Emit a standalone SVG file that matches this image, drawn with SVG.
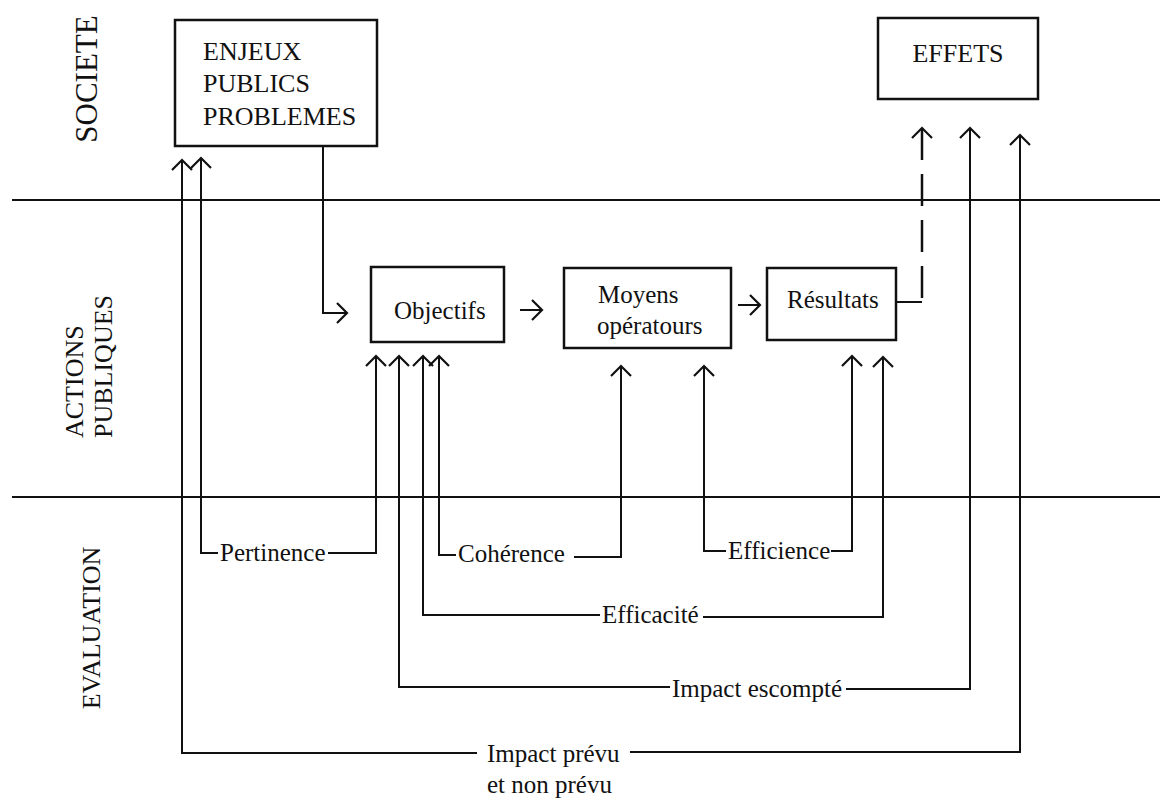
<svg xmlns="http://www.w3.org/2000/svg" width="1160" height="798" viewBox="0 0 1160 798">
<style>
  .bg{fill:#fff}
  .box{fill:#fff;stroke:#111;stroke-width:2.5}
  .sep{stroke:#111;stroke-width:2;fill:none}
  .con{stroke:#111;stroke-width:2;fill:none;marker-end:url(#chev)}
  .line{stroke:#111;stroke-width:2;fill:none}
  .dash{stroke:#111;stroke-width:2.5;fill:none;stroke-dasharray:32 14;marker-end:url(#chev)}
  text{font-family:"Liberation Serif","DejaVu Serif",serif;fill:#111}
  .big{font-size:26px}
  .lab{font-size:25px}
  .side{font-size:26px}
</style>
<defs>
  <marker id="chev" viewBox="-12 -12 14 24" refX="0" refY="0" markerWidth="14" markerHeight="24" markerUnits="userSpaceOnUse" orient="auto" overflow="visible">
    <path d="M-10,-10 L0,0 L-10,10" fill="none" stroke="#111" stroke-width="2.2"/>
  </marker>
</defs>
<rect class="bg" x="0" y="0" width="1160" height="798"/>

<g id="bands">
  <line class="sep" x1="12" y1="200" x2="1160" y2="200"/>
  <line class="sep" x1="12" y1="497" x2="1160" y2="497"/>
  <text class="side" font-size="31" text-anchor="middle" transform="translate(97,79) rotate(-90)" style="font-size:31px">SOCIETE</text>
  <text class="side" transform="translate(83,438) rotate(-90)">ACTIONS</text>
  <text class="side" transform="translate(112,438) rotate(-90)">PUBLIQUES</text>
  <text class="side" text-anchor="middle" transform="translate(100,628) rotate(-90)">EVALUATION</text>
</g>

<g id="enjeux">
  <rect class="box" x="175" y="20" width="202" height="126"/>
  <text class="big" x="203" y="60">ENJEUX</text>
  <text class="big" x="203" y="92">PUBLICS</text>
  <text class="big" x="203" y="125">PROBLEMES</text>
</g>
<g id="effets">
  <rect class="box" x="878" y="18" width="160" height="81"/>
  <text class="big" x="958" y="62" text-anchor="middle">EFFETS</text>
</g>
<g id="objectifs">
  <rect class="box" x="371" y="267" width="133" height="75"/>
  <text class="lab" x="394" y="319">Objectifs</text>
</g>
<g id="moyens">
  <rect class="box" x="564" y="268" width="167" height="80"/>
  <text class="lab" x="598" y="303">Moyens</text>
  <text class="lab" x="597" y="334">opératours</text>
</g>
<g id="resultats">
  <rect class="box" x="767" y="268" width="129" height="72"/>
  <text class="lab" x="787" y="308">Résultats</text>
</g>

<g id="connectors">
  <path class="con" d="M323,146 V313 H347"/>
  <path class="con" d="M520,310 H542"/>
  <path class="con" d="M738,305 H760"/>
  <path class="line" d="M896,302 H922"/>
  <path class="dash" d="M922,298 V128"/>

  <path class="con" d="M218,553 H201 V158"/>
  <path class="con" d="M328,553 H376 V356"/>

  <path class="con" d="M456,555 H439 V356"/>
  <path class="con" d="M574,557 H621 V366"/>

  <path class="con" d="M726,551 H704 V366"/>
  <path class="con" d="M831,551 H852 V356"/>

  <path class="con" d="M600,615 H423 V356"/>
  <path class="con" d="M703,617 H883 V357"/>

  <path class="con" d="M670,687 H399 V356"/>
  <path class="con" d="M846,689 H970 V128"/>

  <path class="con" d="M477,753 H182 V160"/>
  <path class="con" d="M630,752 H1020 V135"/>
</g>

<g id="labels">
  <text class="lab" x="220" y="561">Pertinence</text>
  <text class="lab" x="458" y="562">Cohérence</text>
  <text class="lab" x="728" y="559">Efficience</text>
  <text class="lab" x="602" y="623">Efficacité</text>
  <text class="lab" x="672" y="697">Impact escompté</text>
  <text class="lab" x="487" y="762">Impact prévu</text>
  <text class="lab" x="487" y="793">et non prévu</text>
</g>
</svg>
